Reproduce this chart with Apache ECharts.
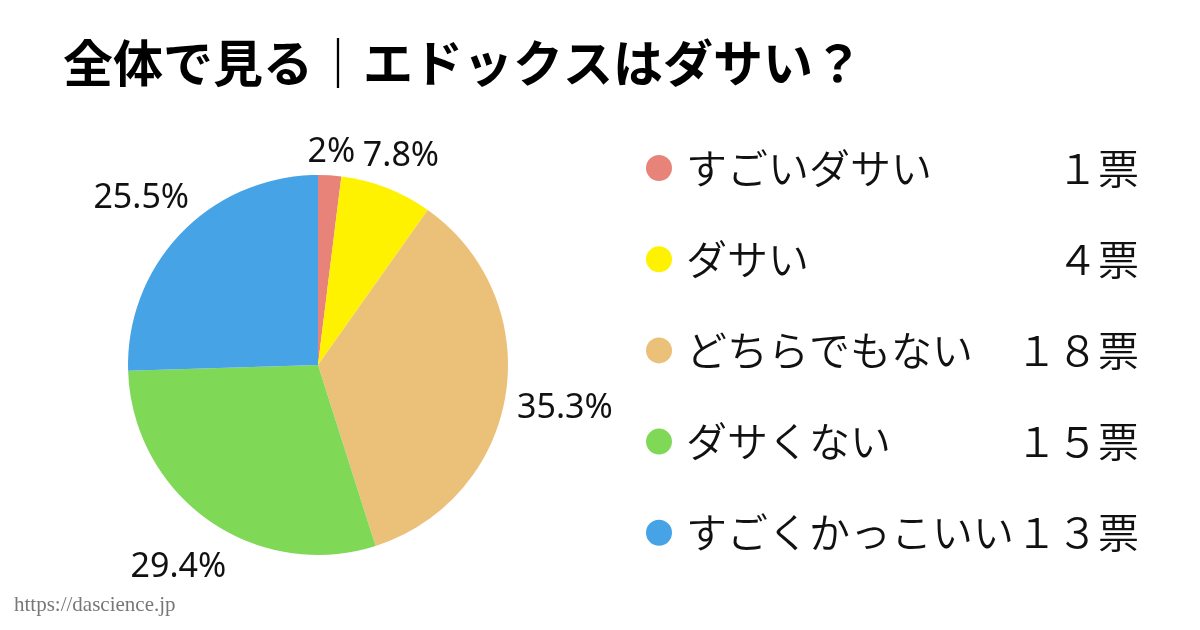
<!DOCTYPE html>
<html>
<head>
<meta charset="utf-8">
<script src="https://cdn.jsdelivr.net/npm/echarts@6/dist/echarts.min.js"></script>
<style>
  html, body { margin: 0; padding: 0; background: #fff; }
  #chart { width: 1200px; height: 630px; }
</style>
</head>
<body>
<div id="chart"></div>
<script>
// answers and vote counts
const answers = ['すごいダサい', 'ダサい', 'どちらでもない', 'ダサくない', 'すごくかっこいい'];
const votes = [1, 4, 18, 15, 13];
const colors = ['#E8837A', '#FFF200', '#EBC079', '#7FD957', '#46A3E6'];

const titleText = '全体で見る｜エドックスはダサい？';
const sourceText = 'https://dascience.jp';

const jp = "'Noto Sans CJK JP', 'Noto Sans', sans-serif";

// half-width digits -> full-width, like the legend counts
function wide(n) {
  return String(n).replace(/[0-9]/g, d => String.fromCharCode(d.charCodeAt(0) + 0xFEE0));
}

const pieData = answers.map((a, i) => ({ name: a, value: votes[i] }));

let chart = echarts.init(document.getElementById('chart'));

chart.setOption({
  animation: false,
  color: colors,
  title: {
    text: titleText,
    left: 63,
    top: 38,
    padding: 0,
    textStyle: { fontFamily: jp, fontSize: 50, fontWeight: 'bold', color: '#000' }
  },
  legend: [
    {
      orient: 'vertical',
      left: 646,
      top: 143,
      padding: 0,
      itemGap: 41.2,
      itemWidth: 26,
      itemHeight: 26,
      icon: 'circle',
      selectedMode: false,
      formatter: name => '{n|' + name + '}',
      textStyle: {
        rich: {
          n: { fontFamily: jp, fontSize: 41, fontWeight: 350, color: '#111', height: 50, lineHeight: 50, padding: [0, 0, 0, 9] }
        }
      }
    },
    {
      orient: 'vertical',
      right: 61,
      top: 143,
      padding: 0,
      itemGap: 41.2,
      itemWidth: 0,
      itemHeight: 26,
      icon: 'none',
      selectedMode: false,
      formatter: name => '{c|' + wide(votes[answers.indexOf(name)]) + '票}',
      textStyle: {
        rich: {
          c: { fontFamily: jp, fontSize: 41, fontWeight: 350, color: '#111', height: 50, lineHeight: 50, width: 160, align: 'right' }
        }
      }
    }
  ],
  graphic: [
    {
      type: 'text',
      left: 14,
      top: 595,
      style: {
        text: sourceText,
        fontFamily: "'Liberation Serif', 'DejaVu Serif', serif",
        fontSize: 21,
        fill: '#777'
      }
    }
  ],
  series: [
    {
      type: 'pie',
      center: [318, 365],
      radius: 190,
      startAngle: 90,
      clockwise: true,
      percentPrecision: 1,
      avoidLabelOverlap: false,
      emphasis: { disabled: true },
      itemStyle: { borderWidth: 0 },
      data: pieData,
      label: {
        show: true,
        position: 'outside',
        alignTo: 'none',
        formatter: '{d}%',
        fontFamily: "'Noto Sans', sans-serif",
        fontSize: 34,
        color: '#111'
      },
      labelLine: { show: false, length: 20, length2: 0 },
      // centre each label just outside its slice, along the slice's own direction
      labelLayout: function (p) {
        const pts = p.labelLinePoints;
        if (!pts) return {};
        const dx = pts[1][0] - pts[0][0];
        const dy = pts[1][1] - pts[0][1];
        const len = Math.sqrt(dx * dx + dy * dy) || 1;
        const ux = dx / len, uy = dy / len;
        const ext = Math.abs(ux) * p.labelRect.width / 2 + Math.abs(uy) * p.labelRect.height / 2;
        const d = 10 + ext;
        return {
          x: pts[0][0] + ux * d,
          y: pts[0][1] + uy * d + 5,
          align: 'center',
          verticalAlign: 'middle'
        };
      }
    }
  ]
});
</script>
</body>
</html>
